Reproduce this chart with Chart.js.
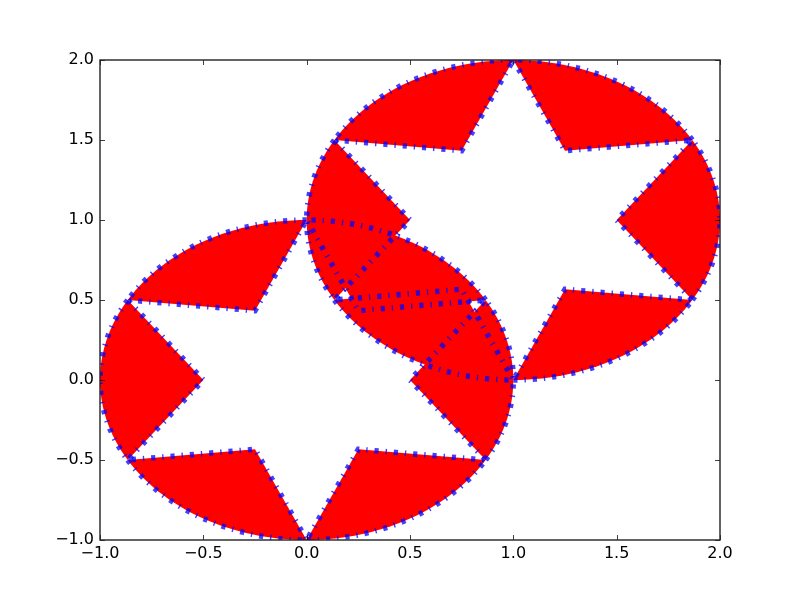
<!DOCTYPE html>
<html>
<head>
<meta charset="utf-8">
<script src="https://cdn.jsdelivr.net/npm/chart.js@4.4.1/dist/chart.umd.min.js"></script>
<style>
  html, body { margin: 0; padding: 0; background: #fff; }
  #chart { display: block; }
</style>
</head>
<body>
<canvas id="chart" width="800" height="600"></canvas>
<script>
// ---- data ----
// two copies of a circle with a six-point star cut out of it
const shapeCenters = [[0, 0], [1, 1]];
const circleRadius = 1.0;
// star corners (unit star), outer tips and inner notches
const starOuter = [[0, 1], [-0.866, 0.5], [-0.866, -0.5], [0, -1], [0.866, -0.5], [0.866, 0.5]];
const starInner = [[-0.25, 0.433], [-0.5, 0], [-0.25, -0.433], [0.25, -0.433], [0.5, 0], [0.25, 0.433]];
const xTicks = [-1, -0.5, 0, 0.5, 1, 1.5, 2];
const yTicks = [-1, -0.5, 0, 0.5, 1, 1.5, 2];

const fillColor = '#ff0000';
const edgeColor = 'rgba(0, 0, 255, 0.75)';

// each red piece = arc between two star tips + the notch between them
function wedge(center, k) {
  const a = starOuter[k];
  const b = starOuter[(k + 1) % starOuter.length];
  const notch = starInner[k];
  const t0 = Math.atan2(a[1], a[0]);
  let t1 = Math.atan2(b[1], b[0]);
  if (t1 <= t0) t1 += Math.PI * 2;
  const pts = [];
  const steps = 30;
  for (let i = 0; i <= steps; i++) {
    const t = t0 + (t1 - t0) * i / steps;
    pts.push({ x: center[0] + circleRadius * Math.cos(t), y: center[1] + circleRadius * Math.sin(t) });
  }
  pts.push({ x: center[0] + notch[0], y: center[1] + notch[1] });
  pts.push({ x: center[0] + a[0], y: center[1] + a[1] });
  return pts;
}

const datasets = [];
shapeCenters.forEach(c => {
  starOuter.forEach((_, k) => {
    datasets.push({
      data: wedge(c, k),
      showLine: true,
      fill: 'shape',
      backgroundColor: fillColor,
      borderColor: edgeColor,
      borderWidth: 5.5,
      borderDash: [4.2, 6.9, 1.4, 6.9],
      borderCapStyle: 'butt',
      borderJoinStyle: 'miter',
      pointRadius: 0,
      pointHoverRadius: 0,
      tension: 0,
      clip: 0
    });
  });
});

const fmt = v => (v < 0 ? '\u2212' : '') + Math.abs(v).toFixed(1);

// frame + inward ticks on all four sides
const frameAndTicks = {
  id: 'frameAndTicks',
  afterDatasetsDraw(chart) {
    const { ctx, chartArea: a, scales: { x, y } } = chart;
    ctx.save();
    ctx.strokeStyle = 'rgba(0,0,0,0.75)';
    ctx.lineWidth = 1;
    ctx.beginPath();
    xTicks.forEach(v => {
      const px = Math.round(x.getPixelForValue(v)) + 0.5;
      ctx.moveTo(px, a.bottom); ctx.lineTo(px, a.bottom - 5);
      ctx.moveTo(px, a.top); ctx.lineTo(px, a.top + 5);
    });
    yTicks.forEach(v => {
      const py = Math.round(y.getPixelForValue(v)) + 0.5;
      ctx.moveTo(a.left, py); ctx.lineTo(a.left + 5, py);
      ctx.moveTo(a.right, py); ctx.lineTo(a.right - 5, py);
    });
    ctx.stroke();
    ctx.strokeStyle = '#222';
    ctx.lineWidth = 1.4;
    ctx.strokeRect(a.left, a.top, a.right - a.left, a.bottom - a.top);
    ctx.restore();
  }
};

new Chart(document.getElementById('chart'), {
  type: 'scatter',
  data: { datasets },
  options: {
    responsive: false,
    animation: false,
    events: [],
    layout: { padding: { top: 60, right: 80, left: 0, bottom: 0 } },
    plugins: {
      legend: { display: false },
      tooltip: { enabled: false },
      filler: { drawTime: 'beforeDatasetsDraw' }
    },
    scales: {
      x: {
        type: 'linear',
        min: -1, max: 2,
        grid: { display: false, drawTicks: false },
        border: { display: false },
        afterBuildTicks: s => { s.ticks = xTicks.map(v => ({ value: v })); },
        afterFit: s => { s.height = 60; },
        ticks: {
          padding: 4,
          color: '#000',
          maxRotation: 0,
          font: { family: 'DejaVu Sans', size: 16 },
          callback: v => fmt(v)
        }
      },
      y: {
        type: 'linear',
        min: -1, max: 2,
        grid: { display: false, drawTicks: false },
        border: { display: false },
        afterBuildTicks: s => { s.ticks = yTicks.map(v => ({ value: v })); },
        afterFit: s => { s.width = 100; },
        ticks: {
          padding: 6,
          color: '#000',
          font: { family: 'DejaVu Sans', size: 16 },
          callback: v => fmt(v)
        }
      }
    }
  },
  plugins: [frameAndTicks]
});
</script>
</body>
</html>
